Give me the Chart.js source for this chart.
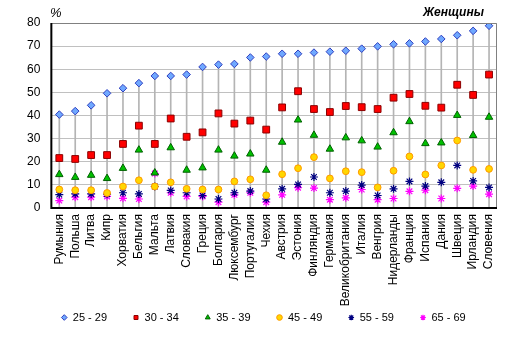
<!DOCTYPE html>
<html><head><meta charset="utf-8">
<script src="https://cdn.jsdelivr.net/npm/chart.js@4"></script>
<style>
html,body{margin:0;padding:0;background:#fff;}
#wrap{position:relative;width:512px;height:337px;}
#t1{position:absolute;left:50px;top:5px;font:italic 13px Arial,'Liberation Sans',sans-serif;color:#000;}
#t2{position:absolute;left:423px;top:5px;font:bold italic 12px Arial,'Liberation Sans',sans-serif;color:#000;}
</style></head>
<body><div id="wrap"><canvas id="c" width="512" height="337"></canvas>
<div id="t1">%</div><div id="t2">Женщины</div></div>
<script>
const categories = ['Румыния','Польша','Литва','Кипр','Хорватия','Бельгия','Мальта','Латвия','Словакия','Греция','Болгария','Люксембург','Португалия','Чехия','Австрия','Эстония','Финляндия','Германия','Великобритания','Италия','Венгрия','Нидерланды','Франция','Испания','Дания','Швеция','Ирландия','Словения'];
const seriesNames = ['25 - 29','30 - 34','35 - 39','45 - 49','55 - 59','65 - 69'];
const age25 = [40.4,41.9,44.4,49.6,51.8,54.0,57.1,57.1,57.7,61.0,62.0,62.3,65.1,65.5,66.7,66.7,67.2,67.6,68.0,68.9,69.9,70.8,71.2,72.0,73.1,74.7,76.6,78.8];
const age30 = [21.6,21.2,22.9,22.9,27.7,35.6,27.7,38.7,30.8,32.7,40.9,36.5,37.8,33.9,43.5,50.5,42.8,41.5,44.1,43.6,42.8,47.7,49.3,44.2,43.4,53.3,48.9,57.7];
const age35 = [14.5,13.3,14.2,12.8,17.2,25.1,15.2,26.1,16.4,17.4,25.1,22.5,23.4,16.4,28.5,38.1,31.5,25.5,30.4,29.1,26.4,32.6,37.4,27.9,28.2,40.1,31.4,39.3];
const age45 = [8.0,7.7,7.7,6.5,9.3,12.0,9.3,11.1,8.3,8.0,8.0,11.5,12.4,5.5,14.6,17.2,22.0,12.8,15.9,15.5,8.9,16.1,22.3,14.5,18.4,29.2,16.5,16.9];
const age55 = [5.8,6.1,6.1,6.0,6.6,6.1,9.3,7.6,6.6,5.4,3.9,6.6,7.3,3.9,8.3,10.2,13.4,6.6,7.3,9.9,5.4,8.3,11.5,9.5,11.1,18.4,11.7,8.9];
const age65 = [3.2,4.7,4.7,5.0,4.2,3.9,14.9,6.6,5.0,5.0,2.5,5.7,6.6,2.5,5.7,8.8,8.6,3.6,4.4,8.0,3.6,4.1,7.2,7.7,4.1,8.5,9.5,6.0];
const yTicks = {min:0,max:80,step:10};

const FONT = "Arial, 'Liberation Sans', sans-serif";
function pts(label,data,style,fill,border,r,bw){
  return {type:'line',label,data,showLine:false,pointStyle:style,backgroundColor:fill,borderColor:border,
    pointRadius:r,pointHoverRadius:r,pointBorderWidth:bw,order:1};
}
const borderPlugin = {
  id:'plotBorder',
  afterLayout(chart){
    const sx = chart.scales.x;
    if (sx) sx._computeLabelArea = function(){ return undefined; };
    if (chart.legend){ chart.legend.left += 7; chart.legend.right += 7; }
  },
  afterDraw(chart){
    const {ctx,chartArea:a}=chart;
    ctx.save();
    ctx.strokeStyle='#808080';ctx.lineWidth=1;
    ctx.beginPath();ctx.moveTo(a.left,a.top+0.5);ctx.lineTo(a.right-0.5,a.top+0.5);ctx.lineTo(a.right-0.5,a.bottom);ctx.stroke();
    ctx.strokeStyle='#000';ctx.lineWidth=2;
    ctx.beginPath();ctx.moveTo(a.left,a.top);ctx.lineTo(a.left,a.bottom);ctx.lineTo(a.right,a.bottom);ctx.stroke();
    ctx.restore();
  }
};
new Chart(document.getElementById('c'),{
  data:{labels:categories,datasets:[
    {type:'bar',label:'drop',data:age25,backgroundColor:'#b4b4b4',barThickness:1,order:10},
    pts(seriesNames[0],age25,'rectRot','#6fa8ff','#2f3fbf',3.8,1),
    pts(seriesNames[1],age30,'rect','#ff0000','#8b0000',4.8,1),
    pts(seriesNames[2],age35,'triangle','#00c000','#006000',4.3,1),
    pts(seriesNames[3],age45,'circle','#ffd700','#ff9900',3.4,1),
    pts(seriesNames[4],age55,'star','#000080','#000080',4,1.2),
    pts(seriesNames[5],age65,'star','#ff00ff','#ff00ff',4,1.2)
  ]},
  options:{
    responsive:false,animation:false,
    layout:{padding:{left:16,right:15,top:23,bottom:4}},
    plugins:{
      tooltip:{enabled:false},
      legend:{position:'bottom',
        labels:{filter:(it)=>it.text!=='drop',usePointStyle:true,boxWidth:6,boxHeight:4,padding:26,
          font:{family:FONT,size:11},color:'#000'}}
    },
    scales:{
      x:{offset:true,grid:{display:false,drawTicks:false},border:{display:false},
        afterFit:(s)=>{s.height=78;},
        ticks:{minRotation:90,maxRotation:90,autoSkip:false,padding:6,color:'#000',font:{family:FONT,size:12}}},
      y:{min:yTicks.min,max:yTicks.max,border:{display:false},
        grid:{color:'#c0c0c0',drawTicks:false},
        ticks:{stepSize:yTicks.step,padding:11,color:'#000',font:{family:FONT,size:12}}}
    }
  },
  plugins:[borderPlugin]
});
</script></body></html>
